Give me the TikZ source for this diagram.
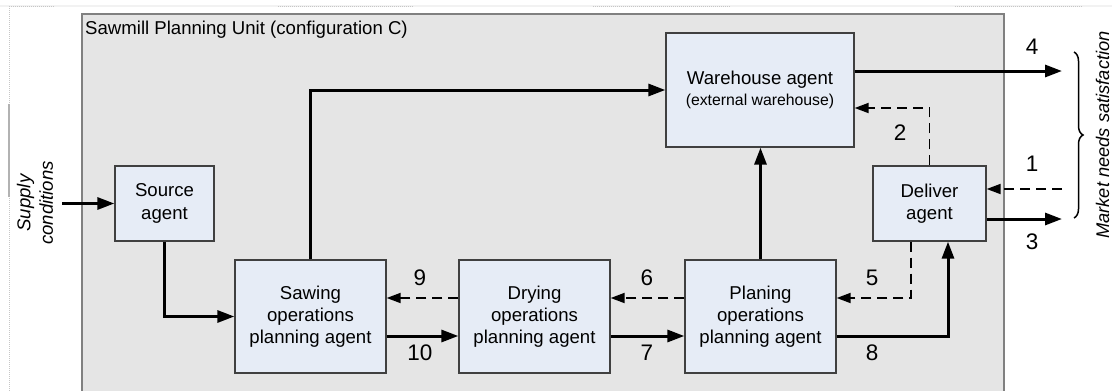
\documentclass[tikz,border=0pt]{standalone}
\usepackage{fontspec}
\setmainfont{Liberation Sans}
\usetikzlibrary{arrows.meta,decorations.pathreplacing,calc}
\definecolor{boxfill}{HTML}{E6ECF6}
\definecolor{boxline}{HTML}{404040}
\definecolor{unitfill}{HTML}{E5E5E5}
\definecolor{unitline}{HTML}{808080}
\begin{document}
\begin{tikzpicture}[x=1pt,y=-1pt,
  agent/.style={draw=boxline, fill=boxfill, line width=1.3pt, align=center,
    font=\fontsize{18.6}{22.3}\selectfont, inner sep=0pt},
  flow/.style={line width=3pt, -{Triangle[length=17pt,width=12pt]}},
  info/.style={line width=1.8pt, dash pattern=on 10pt off 6pt, -{Triangle[length=14pt,width=10pt]}},
  num/.style={font=\fontsize{22.5}{27}\selectfont, inner sep=0pt, text depth=0pt},
  lbl/.style={font=\fontsize{18.6}{22.3}\selectfont, inner sep=0pt},
  artifact/.style={gray!45, line width=1pt, dash pattern=on 1pt off 1pt}
]
\useasboundingbox (0,0) rectangle (1112,391);
\clip (0,0) rectangle (1112,391);
\fill[white] (0,0) rectangle (1112,391);
% faint scan artefacts
\draw[gray!10, line width=2pt] (0,6) -- (1112,6);
\draw[artifact] (9,6) -- (54,6);
\draw[artifact] (278,6) -- (413,6);
\draw[artifact] (593,6) -- (730,6);
\draw[artifact] (955,6) -- (1082,6);
\draw[artifact] (9,6) -- (9,391);
\draw[gray!60, line width=1.2pt] (9,104) -- (9,197);
% unit container
\draw[draw=unitline, fill=unitfill, line width=1.3pt] (82,14) rectangle (1004,400);
\node[lbl, anchor=base west] (title) at (85,34) {Sawmill Planning Unit (configuration C)};
% agents
\node[agent, minimum width=188pt, minimum height=114pt] (wh) at (760,90)
  {Warehouse agent\\[-2pt]{\fontsize{15.8}{19}\selectfont (external warehouse)}};
\node[agent, minimum width=113pt, minimum height=75pt] (del) at (929.5,203.5) {Deliver\\agent};
\node[agent, minimum width=99pt, minimum height=75pt] (src) at (164.5,203.5) {Source\\agent};
\node[agent, minimum width=151pt, minimum height=113pt] (saw) at (310.5,316.5) {Sawing\\operations\\planning agent};
\node[agent, minimum width=151pt, minimum height=113pt] (dry) at (534.5,316.5) {Drying\\operations\\planning agent};
\node[agent, minimum width=151pt, minimum height=113pt] (plan) at (760.5,316.5) {Planing\\operations\\planning agent};
% outside texts
\node[lbl, font=\fontsize{18.6}{22.3}\selectfont\itshape, rotate=90, align=center] (supt) at (35,203) {Supply\\conditions};
\node[lbl, font=\fontsize{18.3}{22}\selectfont\itshape, rotate=90, anchor=base] (mkt) at (1109,135) {Market needs satisfaction};
\draw[decorate, decoration={brace, amplitude=9pt}, line width=1.5pt] (1074,52) -- (1074,218);
% helper coordinates
\coordinate (sup) at (62,203.5);
\coordinate (r1) at (0,298);
\coordinate (r2) at (0,336);
\coordinate (c5) at (911,0);
\coordinate (c8) at (948,0);
\coordinate (c2) at (930,108);
\coordinate (m4) at (1062,71);
\coordinate (m1) at (1062,189);
\coordinate (m3) at (1062,219);
% connectors
\draw[flow] (sup) -- (src.west);
\draw[flow] (src.south) |- (saw.west);
\draw[flow] (saw.north) |- (wh.west);
\draw[flow] (plan.north) -- (plan.north |- wh.south);
\draw[info] (dry.west |- r1) -- (saw.east |- r1);
\draw[flow] (saw.east |- r2) -- (dry.west |- r2);
\draw[info] (plan.west |- r1) -- (dry.east |- r1);
\draw[flow] (dry.east |- r2) -- (plan.west |- r2);
\draw[info] (del.south -| c5) -- (c5 |- r1) -- (plan.east |- r1);
\draw[flow] (plan.east |- r2) -- (c8 |- r2) -- (del.south -| c8);
\draw[info] (del.north) -- (del.north |- c2) -- (wh.east |- c2);
\draw[flow] (wh.east |- m4) -- (m4);
\draw[info] (m1) -- (del.east |- m1);
\draw[flow] (del.east |- m3) -- (m3);
% numbers
\node[num] (n4) at (1032,47) {4};
\node[num] (n2) at (900,133) {2};
\node[num] (n1) at (1032,164) {1};
\node[num] (n3) at (1032,242) {3};
\node[num] (n9) at (420,278) {9};
\node[num] (n10) at (420,353) {10};
\node[num] (n6) at (647,278) {6};
\node[num] (n7) at (647,353) {7};
\node[num] (n5) at (872,278) {5};
\node[num] (n8) at (872,353) {8};
\end{tikzpicture}
\end{document}
